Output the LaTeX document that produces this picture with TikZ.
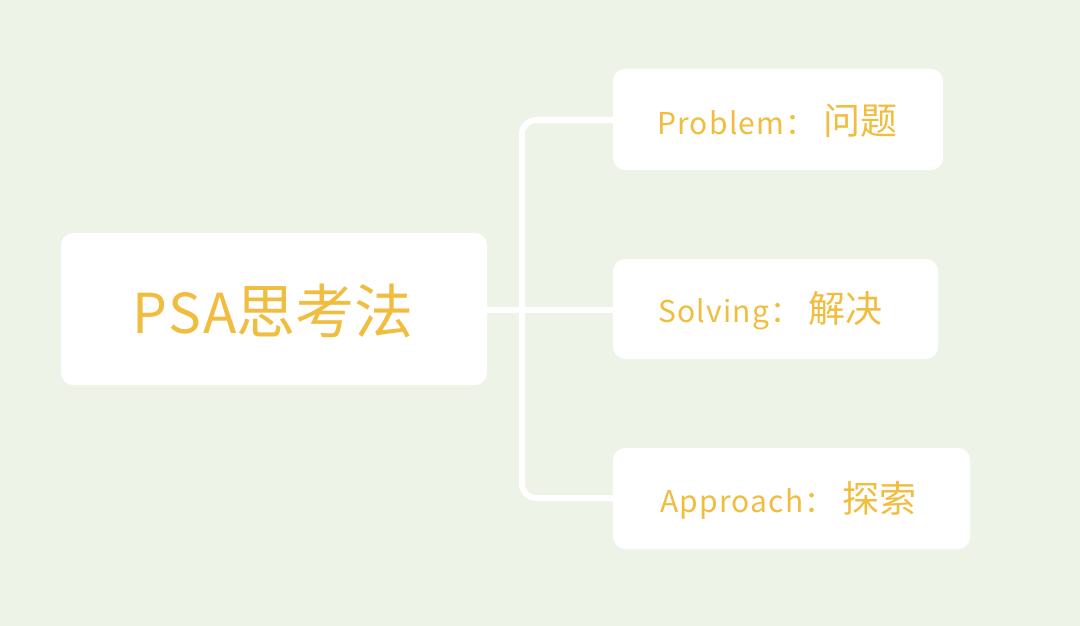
\documentclass[tikz,border=0pt]{standalone}
\usepackage{fontspec}
\setmainfont{Noto Sans CJK SC}
\newfontfamily\cjk{Noto Sans CJK SC}
\newfontfamily\cjkw[LetterSpace=4]{Noto Sans CJK SC}
\definecolor{bgc}{HTML}{EDF4E7}
\definecolor{txt}{HTML}{F1BD3F}
\newcommand{\lat}{\cjkw\fontsize{30}{36}\selectfont}
\newcommand{\han}{\cjk\fontsize{37}{40}\selectfont}
\begin{document}
\begin{tikzpicture}[x=1pt,y=-1pt,
  box/.style={fill=white,rounded corners=12pt,draw=none},
  lbl/.style={text=txt,font=\cjk,inner sep=0pt,anchor=west},
  link/.style={draw=white,line width=6pt,rounded corners=14pt}]
\fill[bgc] (0,0) rectangle (1080,626);
\useasboundingbox (0,0) rectangle (1080,626);
\draw[gray!50,line width=1pt] (1072,0) arc[start angle=180,end angle=240,radius=14];
% boxes
\path[box] (61,233) rectangle (487,385);
\path[box] (613,69) rectangle (943,170);
\path[box] (613,259) rectangle (938,359);
\path[box] (613,448) rectangle (970,549);
\node[text=txt,font=\cjk,inner sep=0pt] (main) at (273,311) {\cjkw\fontsize{55}{60}\selectfont PSA\cjk\fontsize{59}{60}\selectfont 思考法};
\node[lbl] (p) at (657,121) {\lat Problem：\hspace{8pt}\han 问题};
\node[lbl] (s) at (658,311) {\lat Solving：\hspace{8pt}\han 解决};
\node[lbl] (a) at (660,500) {\lat Approach：\hspace{8pt}\han 探索};
\coordinate (mR) at (487,310);
\coordinate (pL) at (613,120);
\coordinate (sL) at (613,310);
\coordinate (aL) at (613,498);
\draw[link] (mR) -- (sL);
\draw[link] (pL) -- (522,120) -- (522,498) -- (aL);
\end{tikzpicture}
\end{document}
